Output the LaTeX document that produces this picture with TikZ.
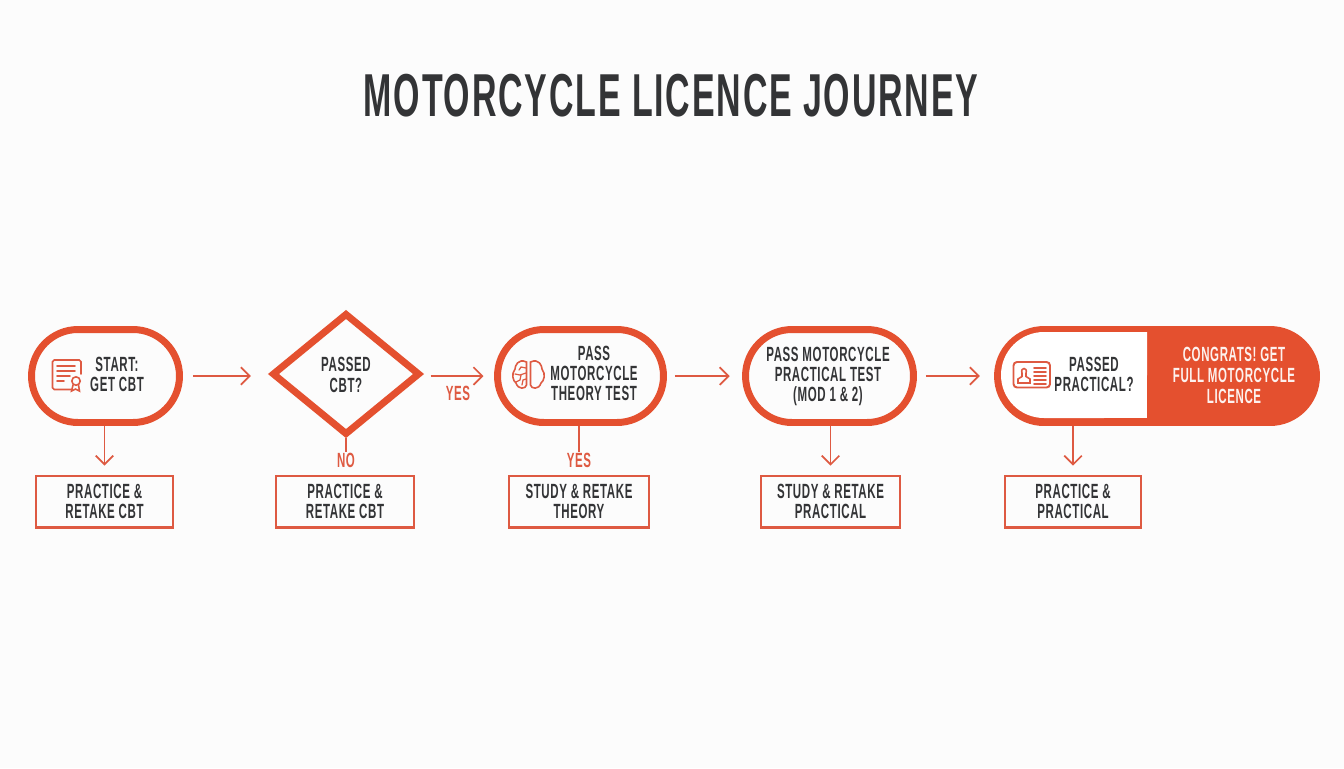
\documentclass[tikz,border=0pt]{standalone}
\usepackage{fontspec}
\setmainfont[FakeStretch=0.56,LetterSpace=3]{Liberation Sans}
\usetikzlibrary{arrows.meta, shapes.geometric}
\definecolor{accent}{HTML}{E4502F}
\definecolor{wire}{HTML}{DE5A42}
\definecolor{ink}{HTML}{333436}
\tikzset{
  pill/.style={draw=accent, line width=3.97pt, rounded corners=0.93cm, minimum height=1.86cm},
  retake/.style={draw=wire, line width=1.15pt, minimum height=1.04cm, text=ink, align=center,
    font=\fontsize{11.7}{11}\selectfont\bfseries},
  caption/.style={text=ink, align=center, inner sep=0pt, font=\fontsize{11.7}{11.4}\selectfont\bfseries},
  answer/.style={text=wire, inner sep=0pt, font=\fontsize{11.7}{12}\selectfont\bfseries},
  flow/.style={draw=wire, line width=1pt, -{Straight Barb[length=5pt,width=10pt,line width=1pt]}},
  stub/.style={draw=wire, line width=1pt},
  icon/.style={draw=wire, line width=0.9pt, line cap=round}
}
\begin{document}
\begin{tikzpicture}[x=0.02cm,y=-0.02cm]
\useasboundingbox[fill=white!99!black] (0,0) rectangle (1344,768);

\node[text=ink, inner sep=0pt, font=\fontsize{34.5}{36}\selectfont\bfseries] (title) at (671,96) {MOTORCYCLE LICENCE JOURNEY};

% the row of steps
\node[pill, minimum width=2.96cm] (start) at (105.5,376) {};
\node[diamond, draw=accent, line width=3.97pt, minimum width=2.96cm, minimum height=2.44cm, inner sep=0pt] (passedcbt) at (346,374) {};
\node[pill, minimum width=3.32cm] (theory) at (580.5,376) {};
\node[pill, minimum width=3.36cm] (practical) at (829.5,376) {};
\node[pill, fill=accent, minimum width=6.38cm] (licence) at (1157,376) {};
\fill[white, rounded corners=0.86cm] (1147,332) -- (1001,332) -- (1001,418) -- (1147,418) [sharp corners] -- cycle;
\fill[white] (1060,332) rectangle (1147,418);
\coordinate (gate) at (994,376);
\coordinate (gatefoot) at (1073,426);

% texts of the steps
\node[caption] (starttext) at (117,374) {START:\\GET CBT};
\node[caption, font=\fontsize{11.7}{12}\selectfont\bfseries] (cbttext) at (346,375) {PASSED\\CBT?};
\node[caption] (theorytext) at (594,373.5) {PASS\\MOTORCYCLE\\THEORY TEST};
\node[caption] (practicaltext) at (828,376.5) {PASS MOTORCYCLE\\PRACTICAL TEST\\(MOD 1 \& 2)};
\node[caption] (gatetext) at (1094,374) {PASSED\\PRACTICAL?};
\node[caption, text=white!92!accent, font=\fontsize{11.7}{12}\selectfont\bfseries] (licencetext) at (1234,375.5) {CONGRATS! GET\\FULL MOTORCYCLE\\LICENCE};

% retake boxes
\node[retake, minimum width=2.74cm] (box1) at (104.5,501.5) {PRACTICE \&\\RETAKE CBT};
\node[retake, minimum width=2.76cm] (box2) at (345,501.5) {PRACTICE \&\\RETAKE CBT};
\node[retake, minimum width=2.80cm] (box3) at (579,501.5) {STUDY \& RETAKE\\THEORY};
\node[retake, minimum width=2.78cm] (box4) at (830.5,501.5) {STUDY \& RETAKE\\PRACTICAL};
\node[retake, minimum width=2.72cm] (box5) at (1073,501.5) {PRACTICE \&\\PRACTICAL};

% answers
\node[answer] (yesright) at (458,393.5) {YES};
\node[answer] (nodown) at (346,460) {NO};
\node[answer] (yesdown) at (579,460) {YES};

% connectors along the row
\draw[flow, shorten <=5.7pt, shorten >=10pt] (start.east) -- (passedcbt.west |- start);
\draw[flow, shorten <=4pt, shorten >=6pt] (passedcbt.east |- theory) -- (theory.west);
\draw[flow, shorten <=4.5pt, shorten >=7pt] (theory.east) -- (practical.west);
\draw[flow, shorten <=5pt, shorten >=8pt] (practical.east) -- (gate);

% connectors going down
\draw[flow, shorten >=5pt] (start.south -| box1) -- (box1.north);
\draw[stub] (passedcbt.south) -- (nodown.north);
\draw[stub] (theory.south -| yesdown) -- (yesdown.north);
\draw[flow, shorten >=5pt] (practical.south -| box4) -- (box4.north);
\draw[flow, shorten >=5pt] (gatefoot) -- (box5.north);

% certificate
\draw[icon, rounded corners=1pt] (72,389.5) -- (52.5,389.5) -- (52.5,360) -- (81,360) -- (81,374);
\foreach \y/\x in {366/75, 371/75, 376/70, 381/64}
  \draw[icon] (57,\y) -- (\x,\y);
\draw[icon] (76,381) circle (4.2);
\draw[icon] (73,385) -- (71.5,391) -- (75.5,389) -- (79.5,391) -- (78.5,385);

% brain
\draw[icon] (526.5,362) .. controls (518,358) and (515,366) .. (515,369) .. controls (511,374) and (513,381) .. (516,383) .. controls (518,390) and (526,389) .. (526.5,385) -- cycle;
\draw[icon] (530.5,362) .. controls (539,358) and (542,366) .. (542,369) .. controls (546,374) and (544,381) .. (541,383) .. controls (539,390) and (531,389) .. (530.5,385) -- cycle;
\foreach \m in {0,1}{
\begin{scope}[xshift=1.057cm*\m, xscale=1-2*\m]
  \draw[icon, line width=0.7pt] (526,368) -- (521,367) -- (519,370);
  \draw[icon, line width=0.7pt] (515,374) -- (520,375) -- (526,373);
  \draw[icon, line width=0.7pt] (521,375) -- (520,380) -- (516,382);
  \draw[icon, line width=0.7pt] (526,379) -- (523,380) -- (522,385);
\end{scope}}

% licence card
\draw[icon, rounded corners=2pt, line width=1.1pt] (1013.5,362) rectangle (1050,387.5);
\draw[icon] (1018,383) -- (1018,379) -- (1022,376.5) -- (1022,373) .. controls (1020,367) and (1028,367) .. (1026,373) -- (1026,376.5) -- (1030,379) -- (1030,383) -- cycle;
\foreach \y in {368,372,376,380,384}
  \draw[icon] (1034,\y) -- (1046,\y);

\end{tikzpicture}
\end{document}
